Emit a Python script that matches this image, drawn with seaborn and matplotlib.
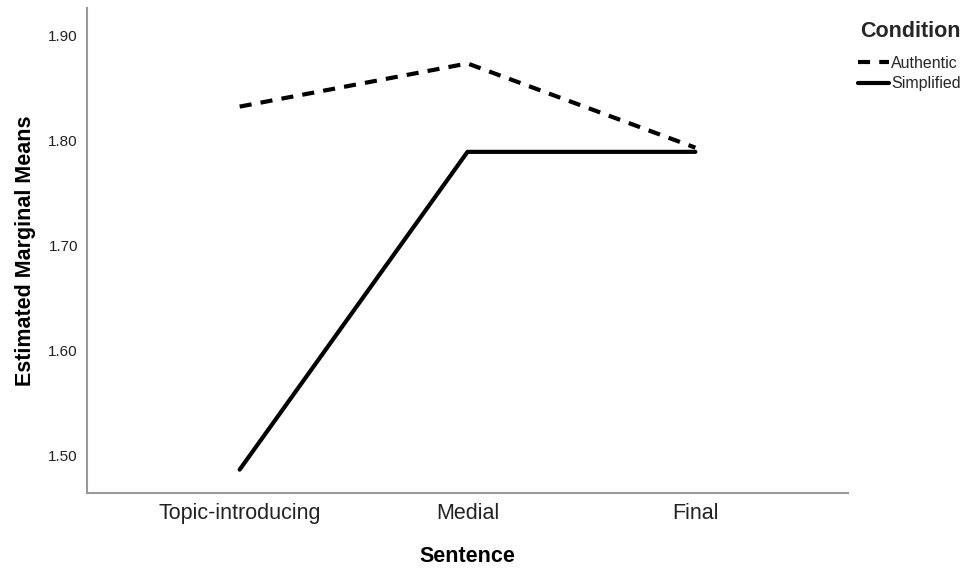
import matplotlib
matplotlib.use("Agg")
import matplotlib.pyplot as plt
import seaborn as sns
import pandas as pd
from matplotlib.lines import Line2D

sentence = ["Topic-introducing", "Medial", "Final"]
authentic = [1.832, 1.873, 1.793]
simplified = [1.487, 1.789, 1.789]
conditions = ["Authentic", "Simplified"]
yticks = [1.50, 1.60, 1.70, 1.80, 1.90]

df = pd.DataFrame({
    "Sentence": sentence * 2,
    "Mean": authentic + simplified,
    "Condition": ["Authentic"] * 3 + ["Simplified"] * 3,
})
df["x"] = df["Sentence"].map({s: i for i, s in enumerate(sentence)})

sns.set_style("white")
plt.rcParams["font.family"] = ["Liberation Sans", "DejaVu Sans"]

fig = plt.figure(figsize=(9.65, 5.71), dpi=100)
ax = fig.add_axes([87/965, 1 - 493/571, (848-87)/965, (493-8)/571])

dash = (2.9, 2.2)
sns.lineplot(data=df, x="x", y="Mean", style="Condition", style_order=conditions,
             dashes={"Authentic": dash, "Simplified": ""}, color="black",
             linewidth=3, ax=ax, legend=False)

ax.set_xlim(-0.67, 2.67)
ax.set_ylim(1.4648, 1.9257)
ax.set_xticks(range(len(sentence)))
ax.set_xticklabels(sentence, fontsize=15.5, color="#222222")
ax.set_yticks(yticks)
ax.set_yticklabels([f"{v:.2f}" for v in yticks], fontsize=11, color="#222222")
ax.tick_params(axis="y", length=0, pad=6.5)
ax.tick_params(axis="x", length=0, pad=7)
ax.set_xlabel("Sentence", fontsize=15.5, fontweight="bold", color="black")
ax.xaxis.set_label_coords(0.5, -(556 - 493) / 485, transform=ax.transAxes)
ax.set_ylabel("Estimated Marginal Means", fontsize=15.5, fontweight="bold", color="black")
ax.yaxis.set_label_coords(-(87 - 25) / 761, 1 - (251 - 8) / 485, transform=ax.transAxes)
ax.xaxis.label.set_va("center")
ax.yaxis.label.set_va("center")
for side in ["top", "right"]:
    ax.spines[side].set_visible(False)
for side in ["left", "bottom"]:
    ax.spines[side].set_color("#999999")
    ax.spines[side].set_linewidth(1.5)

handles = [Line2D([], [], color="black", lw=3, linestyle=(0, dash)),
           Line2D([], [], color="black", lw=3)]
leg = fig.legend(handles, conditions, loc="upper right", bbox_to_anchor=(961/965, 1 - 21/571),
                 frameon=False, title="Condition", fontsize=11.5, handlelength=1.95,
                 handletextpad=0.15, labelspacing=0.35, borderpad=0, borderaxespad=0)
leg.get_title().set_fontweight("bold")
leg.get_title().set_fontsize(15.5)
leg._legend_box.align = "right"
leg._legend_box.sep = 10

fig.savefig("out.png", dpi=100)
